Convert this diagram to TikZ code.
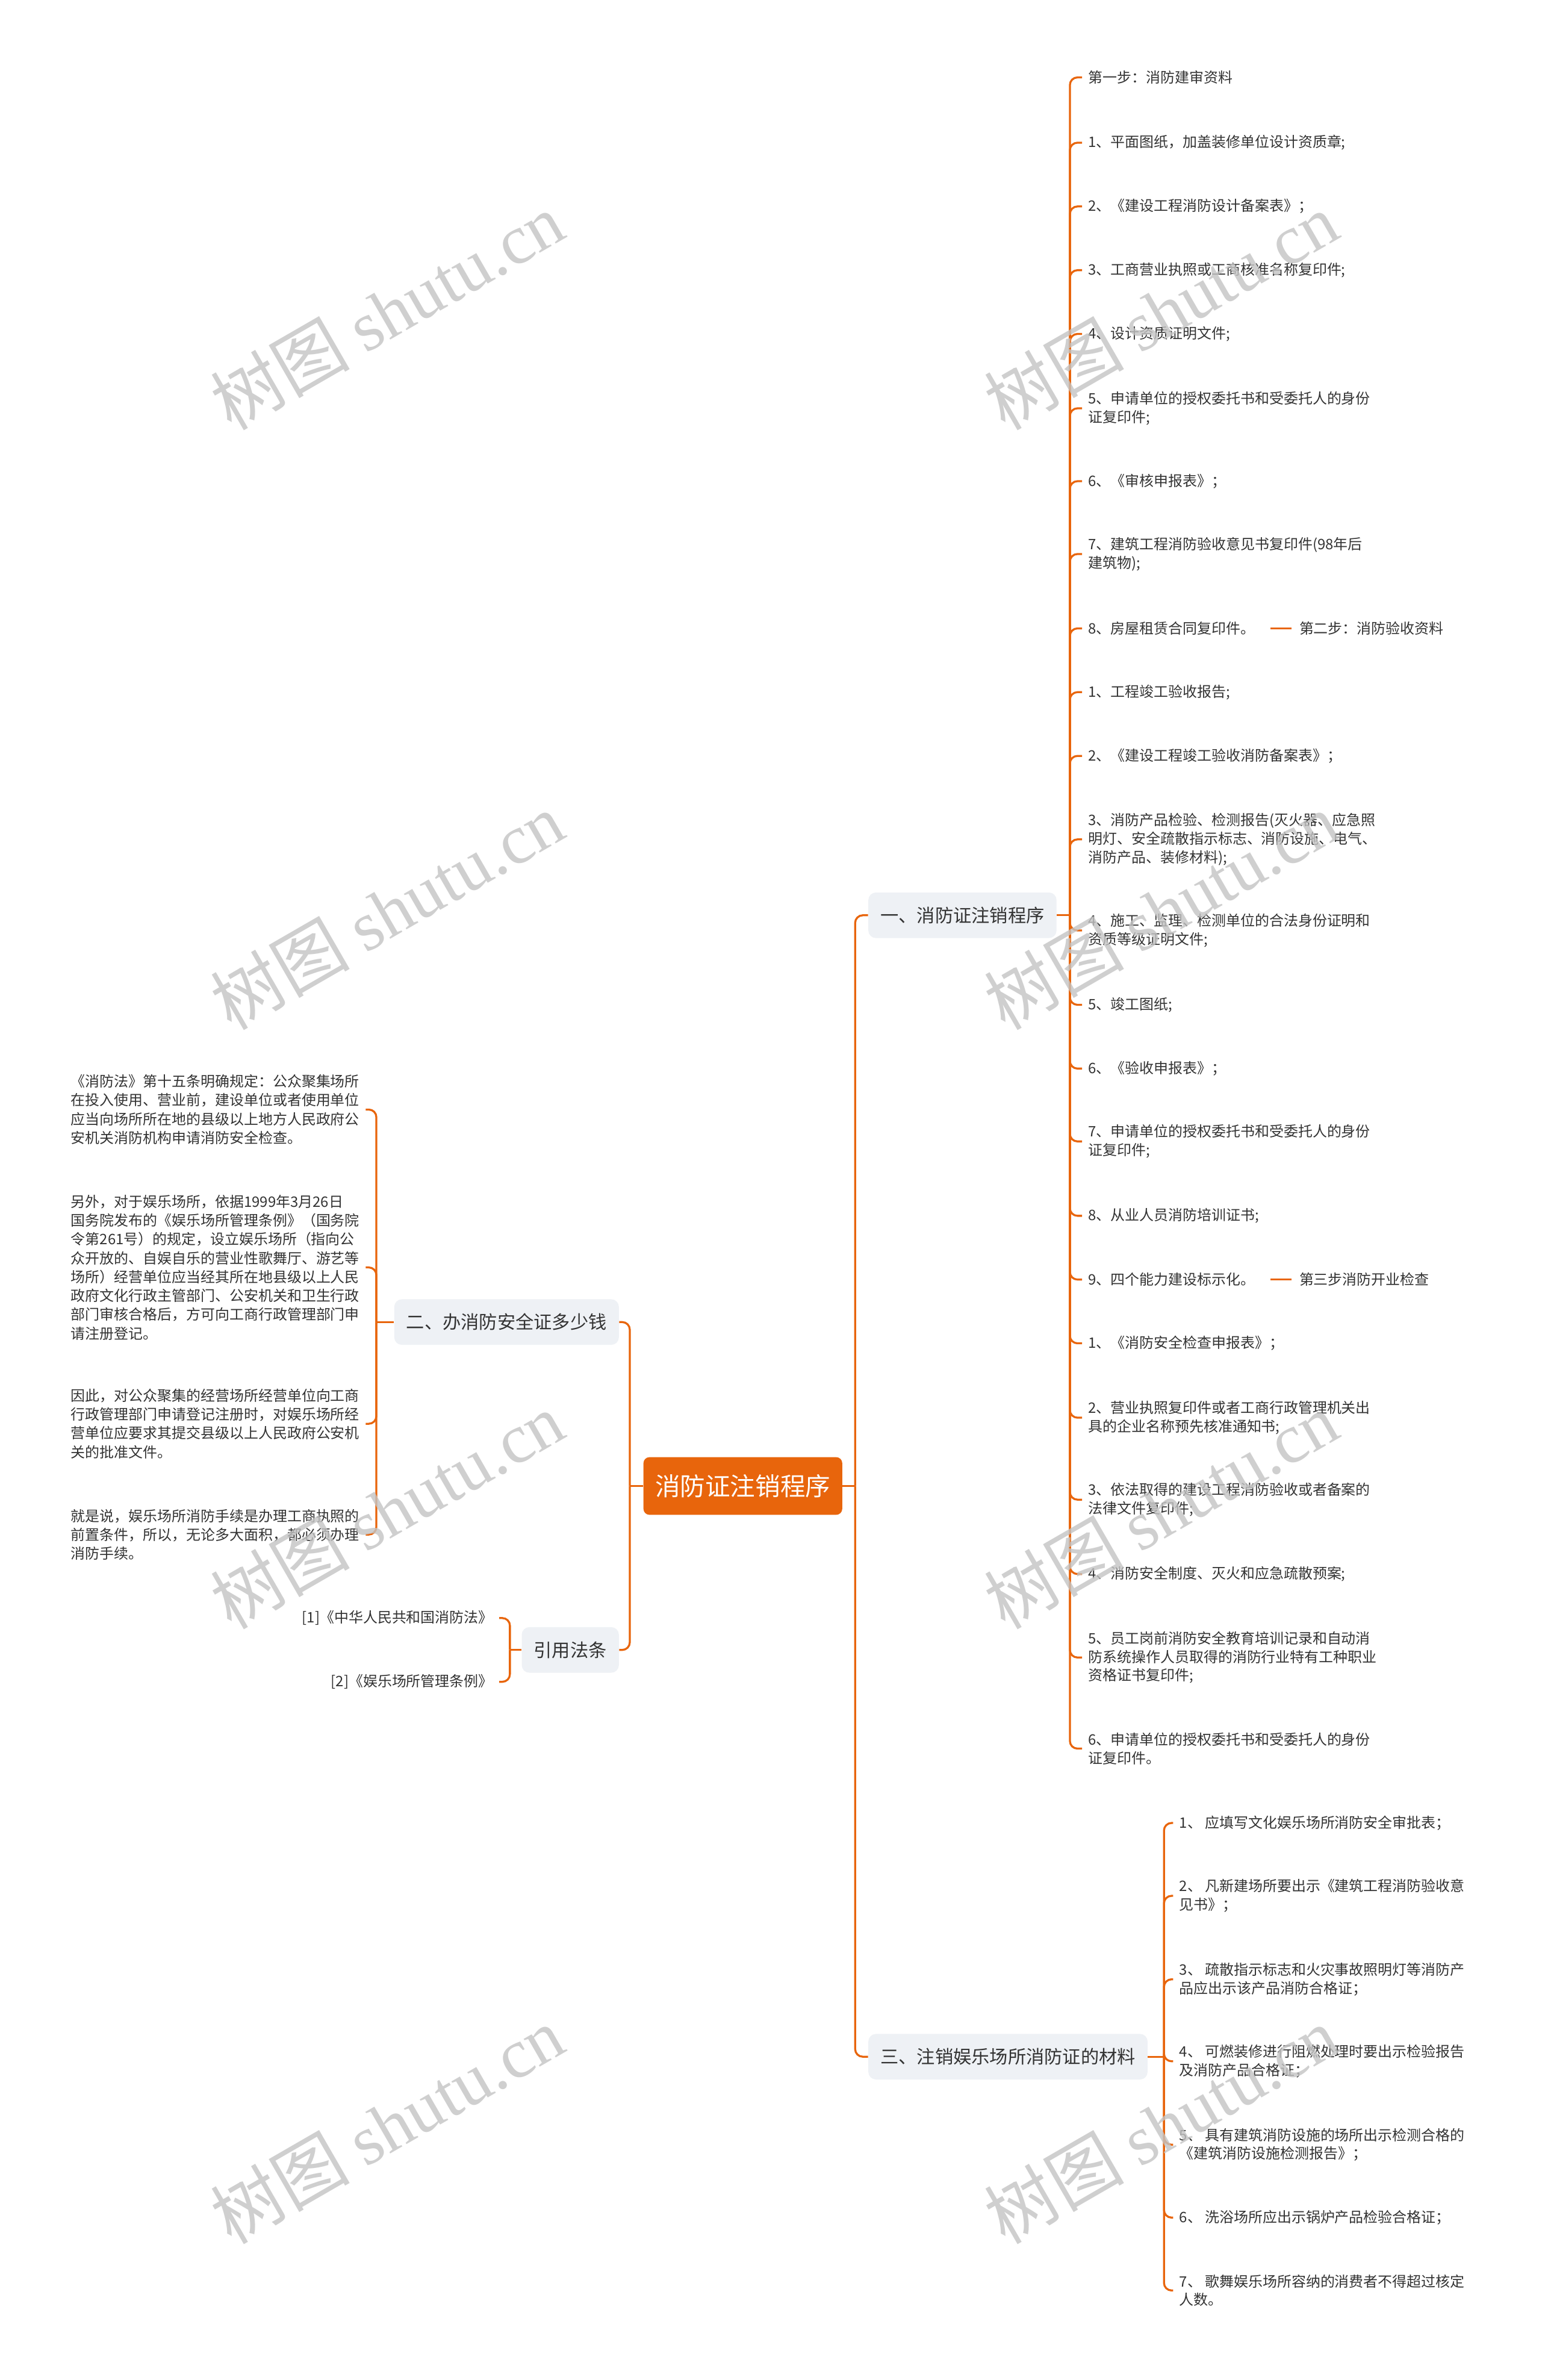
\documentclass[tikz,border=0pt]{standalone}
\usepackage{fontspec}
\setmainfont{Noto Sans CJK SC}
\newfontfamily\wmlatin{Liberation Serif}
\definecolor{brand}{HTML}{E8650C}
\definecolor{secfill}{HTML}{EEF1F5}
\definecolor{txt}{HTML}{333333}
\definecolor{wmgray}{HTML}{C4C4C4}
\tikzset{
  link/.style={draw=brand, line width=1.3pt, rounded corners=5pt},
  rootnode/.style={fill=brand, rounded corners=4pt, text=white,
    font=\fontsize{16.5}{20}\selectfont, minimum width=131pt, minimum height=38pt, inner sep=0pt},
  secnode/.style={fill=secfill, rounded corners=5pt, text=txt,
    font=\fontsize{12}{14}\selectfont, inner xsep=8pt, inner ysep=0pt, minimum height=30pt},
  leafR/.style={anchor=west, text=txt, font=\fontsize{9.5}{12.2}\selectfont,
    align=left, inner xsep=4pt, inner ysep=1pt},
  leafL/.style={anchor=east, text=txt, font=\fontsize{9.5}{12.4}\selectfont,
    align=left, inner xsep=4pt, inner ysep=1pt},
  wmark/.style={text=wmgray, text opacity=0.8, rotate=30, font=\fontsize{46}{50}\selectfont, inner sep=0pt}
}
\begin{document}
\begin{tikzpicture}[x=1pt,y=-1pt]
\path[use as bounding box, fill=white] (0,0) rectangle (1016,1568);

% main nodes
\node[rootnode] (root) at (489.5,979) {消防证注销程序};
\node[secnode, anchor=west] (s1) at (572,603) {一、消防证注销程序};
\node[secnode, anchor=west] (s3) at (572,1355) {三、注销娱乐场所消防证的材料};
\node[secnode, anchor=east] (s2) at (408,871) {二、办消防安全证多少钱};
\node[secnode, anchor=east] (sr) at (408,1087) {引用法条};

% junction points
\coordinate (jr) at (563.5,979);
\coordinate (jl) at (415,979);
\coordinate (j1) at (705,603);
\coordinate (j3) at (767,1355);
\coordinate (j2) at (248,871);
\coordinate (jref) at (336,1087);

% section 1 children
\node[leafR] (c1) at (713,51) {第一步：消防建审资料};
\node[leafR] (c2) at (713,94) {1、平面图纸，加盖装修单位设计资质章;};
\node[leafR] (c3) at (713,136) {2、《建设工程消防设计备案表》；};
\node[leafR] (c4) at (713,178) {3、工商营业执照或工商核准名称复印件;};
\node[leafR] (c5) at (713,220) {4、设计资质证明文件;};
\node[leafR] (c6) at (713,269) {5、申请单位的授权委托书和受委托人的身份\\证复印件;};
\node[leafR] (c7) at (713,317) {6、《审核申报表》；};
\node[leafR] (c8) at (713,365) {7、建筑工程消防验收意见书复印件(98年后\\建筑物);};
\node[leafR] (c9) at (713,414) {8、房屋租赁合同复印件。};
\node[leafR] (c10) at (713,456) {1、工程竣工验收报告;};
\node[leafR] (c11) at (713,498) {2、《建设工程竣工验收消防备案表》；};
\node[leafR] (c12) at (713,553) {3、消防产品检验、检测报告(灭火器、应急照\\明灯、安全疏散指示标志、消防设施、电气、\\消防产品、装修材料);};
\node[leafR] (c13) at (713,613) {4、施工、监理、检测单位的合法身份证明和\\资质等级证明文件;};
\node[leafR] (c14) at (713,662) {5、竣工图纸;};
\node[leafR] (c15) at (713,704) {6、《验收申报表》；};
\node[leafR] (c16) at (713,752) {7、申请单位的授权委托书和受委托人的身份\\证复印件;};
\node[leafR] (c17) at (713,801) {8、从业人员消防培训证书;};
\node[leafR] (c18) at (713,843) {9、四个能力建设标示化。};
\node[leafR] (c19) at (713,885) {1、《消防安全检查申报表》；};
\node[leafR] (c20) at (713,934) {2、营业执照复印件或者工商行政管理机关出\\具的企业名称预先核准通知书;};
\node[leafR] (c21) at (713,988) {3、依法取得的建设工程消防验收或者备案的\\法律文件复印件;};
\node[leafR] (c22) at (713,1037) {4、消防安全制度、灭火和应急疏散预案;};
\node[leafR] (c23) at (713,1092) {5、员工岗前消防安全教育培训记录和自动消\\防系统操作人员取得的消防行业特有工种职业\\资格证书复印件;};
\node[leafR] (c24) at (713,1152) {6、申请单位的授权委托书和受委托人的身份\\证复印件。};

\node[leafR] (t2) at (852,414) {第二步：消防验收资料};
\node[leafR] (t3) at (852,843) {第三步消防开业检查};

% section 3 children
\node[leafR] (d1) at (773,1201) {1、 应填写文化娱乐场所消防安全审批表；};
\node[leafR] (d2) at (773,1249) {2、 凡新建场所要出示《建筑工程消防验收意\\见书》；};
\node[leafR] (d3) at (773,1304) {3、 疏散指示标志和火灾事故照明灯等消防产\\品应出示该产品消防合格证；};
\node[leafR] (d4) at (773,1358) {4、 可燃装修进行阻燃处理时要出示检验报告\\及消防产品合格证；};
\node[leafR] (d5) at (773,1413) {5、 具有建筑消防设施的场所出示检测合格的\\《建筑消防设施检测报告》；};
\node[leafR] (d6) at (773,1461) {6、 洗浴场所应出示锅炉产品检验合格证；};
\node[leafR] (d7) at (773,1509) {7、 歌舞娱乐场所容纳的消费者不得超过核定\\人数。};

% section 2 children
\node[leafL] (e1) at (241,731) {《消防法》第十五条明确规定：公众聚集场所\\在投入使用、营业前，建设单位或者使用单位\\应当向场所所在地的县级以上地方人民政府公\\安机关消防机构申请消防安全检查。};
\node[leafL] (e2) at (241,835) {另外，对于娱乐场所，依据1999年3月26日\\国务院发布的《娱乐场所管理条例》（国务院\\令第261号）的规定，设立娱乐场所（指向公\\众开放的、自娱自乐的营业性歌舞厅、游艺等\\场所）经营单位应当经其所在地县级以上人民\\政府文化行政主管部门、公安机关和卫生行政\\部门审核合格后，方可向工商行政管理部门申\\请注册登记。};
\node[leafL] (e3) at (241,938) {因此，对公众聚集的经营场所经营单位向工商\\行政管理部门申请登记注册时，对娱乐场所经\\营单位应要求其提交县级以上人民政府公安机\\关的批准文件。};
\node[leafL] (e4) at (241,1011) {就是说，娱乐场所消防手续是办理工商执照的\\前置条件，所以，无论多大面积，都必须办理\\消防手续。};

% references
\node[leafL] (r1) at (329,1066) {[1]《中华人民共和国消防法》};
\node[leafL] (r2) at (329,1108) {[2]《娱乐场所管理条例》};

% connectors: root
\draw[link] (root.east) -- (jr);
\draw[link] (jr) |- (s1.west);
\draw[link] (jr) |- (s3.west);
\draw[link] (root.west) -- (jl);
\draw[link] (jl) |- (s2.east);
\draw[link] (jl) |- (sr.east);

% connectors: section 1
\draw[link] (s1.east) -- (j1);
\foreach \n in {c1,c2,c3,c4,c5,c6,c7,c8,c9,c10,c11,c12,c13,c14,c15,c16,c17,c18,c19,c20,c21,c22,c23,c24}
  \draw[link] (j1) |- (\n.west);
\draw[link, shorten <=6pt, shorten >=1pt] (c9.east) -- (t2.west);
\draw[link, shorten <=6pt, shorten >=1pt] (c18.east) -- (t3.west);

% connectors: section 3
\draw[link] (s3.east) -- (j3);
\foreach \n in {d1,d2,d3,d4,d5,d6,d7}
  \draw[link] (j3) |- (\n.west);

% connectors: section 2
\draw[link] (s2.west) -- (j2);
\foreach \n in {e1,e2,e3,e4}
  \draw[link] (j2) |- (\n.east);

% connectors: references
\draw[link] (sr.west) -- (jref);
\foreach \n in {r1,r2}
  \draw[link] (jref) |- (\n.east);

% watermarks
\node[wmark] (wm1) at (255,205) {树图 {\wmlatin shutu.cn}};
\node[wmark] (wm2) at (765,205) {树图 {\wmlatin shutu.cn}};
\node[wmark] (wm3) at (255,600) {树图 {\wmlatin shutu.cn}};
\node[wmark] (wm4) at (765,600) {树图 {\wmlatin shutu.cn}};
\node[wmark] (wm5) at (255,995) {树图 {\wmlatin shutu.cn}};
\node[wmark] (wm6) at (765,995) {树图 {\wmlatin shutu.cn}};
\node[wmark] (wm7) at (255,1400) {树图 {\wmlatin shutu.cn}};
\node[wmark] (wm8) at (765,1400) {树图 {\wmlatin shutu.cn}};
\end{tikzpicture}
\end{document}
